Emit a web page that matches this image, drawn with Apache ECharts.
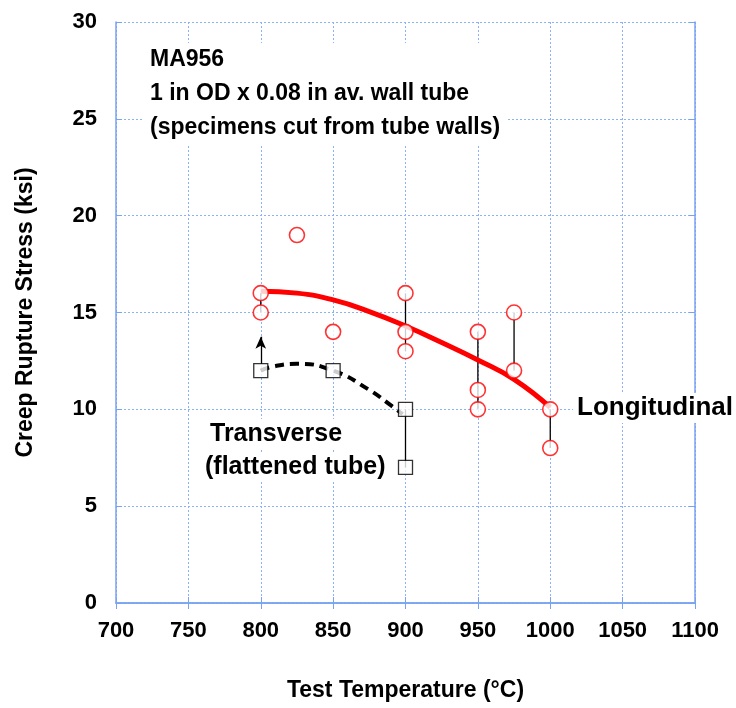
<!DOCTYPE html>
<html><head><meta charset="utf-8">
<script src="https://cdn.jsdelivr.net/npm/echarts@6/dist/echarts.min.js"></script>
<style>html,body{margin:0;padding:0;background:#fff}#c{width:736px;height:708px}</style>
</head><body><div id="c"></div>
<script>
// Data
const xTicks = [700, 750, 800, 850, 900, 950, 1000, 1050, 1100];
const yTicks = [0, 5, 10, 15, 20, 25, 30];
const longTemps =  [800, 800, 825, 850, 900, 900, 900, 950, 950, 950, 975, 975, 1000, 1000];
const longStress = [16, 15, 19, 14, 16, 14, 13, 14, 11, 10, 15, 12, 10, 8];
const transTemps =  [800, 850, 900, 900];
const transStress = [12, 12, 10, 7];
const longFitT = [800, 825, 850, 875, 900, 925, 950, 975, 1000];
const longFitS = [16.1, 16.0, 15.65, 15.05, 14.3, 13.45, 12.55, 11.55, 10.1];
const transFitT = [800, 808, 825, 850, 875, 890, 898];
const transFitS = [12.0, 12.2, 12.35, 12.0, 11.0, 10.2, 9.75];
const rangeT = [800, 900, 950, 975, 1000, 900];
const rangeLo = [15, 13, 10, 12, 8, 7];
const rangeHi = [16, 16, 14, 15, 10, 10];
const arrowT = 800, arrowFrom = 12.35, arrowTo = 13.75;

const zip = (a, b) => a.map((v, i) => [v, b[i]]);
const FONT = 'Liberation Sans, Arial, sans-serif';
const gridBlue = '#8db0f7';
const axisBlue = '#7aa2f2';

const series = [];
rangeT.forEach((t, i) => {
  series.push({type: 'line', data: [[t, rangeLo[i]], [t, rangeHi[i]]], symbol: 'none', showSymbol: false,
    lineStyle: {color: '#000', width: 1.3}, z: 2, silent: true});
});
series.push({type: 'line', data: zip(longFitT, longFitS), smooth: true, symbol: 'none', showSymbol: false,
  lineStyle: {color: '#ff0000', width: 5}, z: 3});
series.push({type: 'line', data: zip(transFitT, transFitS), smooth: true, symbol: 'none', showSymbol: false,
  lineStyle: {color: '#000', width: 4, type: [9, 6]}, z: 3});
series.push({type: 'line', data: [], symbol: 'none', showSymbol: false, z: 2,
  markLine: {silent: true, symbol: ['none', 'arrow'], symbolSize: [8, 12],
    lineStyle: {color: '#000', width: 1.3, type: 'solid'}, label: {show: false},
    data: [[{coord: [arrowT, arrowFrom]}, {coord: [arrowT, arrowTo]}]]}});
series.push({type: 'scatter', data: zip(longTemps, longStress), symbol: 'circle', symbolSize: 15,
  itemStyle: {color: '#fff', borderColor: '#ff0000', borderWidth: 1.6}, z: 5});
series.push({type: 'scatter', data: zip(transTemps, transStress), symbol: 'rect', symbolSize: 14,
  itemStyle: {color: '#fff', borderColor: '#000', borderWidth: 1.3}, z: 5});

const chart = echarts.init(document.getElementById('c'), null, {renderer: 'canvas'});
const tickLabel = {color: '#000', fontFamily: FONT, fontSize: 22, fontWeight: 'bold'};
chart.setOption({
  animation: false,
  backgroundColor: '#fff',
  grid: {left: 116, right: 41, top: 22, bottom: 105, containLabel: false, outerBoundsMode: 'none'},
  xAxis: [{
    type: 'value', min: xTicks[0], max: xTicks[xTicks.length - 1], interval: 50,
    axisLine: {show: true, lineStyle: {color: axisBlue, width: 1.5}},
    axisTick: {show: true, inside: true, length: 6, lineStyle: {color: axisBlue}},
    axisLabel: Object.assign({margin: 17, formatter: v => String(v)}, tickLabel),
    splitLine: {show: true, lineStyle: {color: gridBlue, type: [2, 2], width: 1}},
    name: 'Test Temperature (°C)', nameLocation: 'middle', nameGap: 76,
    nameTextStyle: {color: '#000', fontFamily: FONT, fontSize: 23, fontWeight: 'bold'}
  }, {
    type: 'value', position: 'top', min: 700, max: 1100, interval: 50,
    axisLine: {show: true, lineStyle: {color: axisBlue, width: 1.5}},
    axisTick: {show: true, inside: true, length: 6, lineStyle: {color: axisBlue}},
    axisLabel: {show: false}, splitLine: {show: false}
  }],
  yAxis: [{
    type: 'value', min: yTicks[0], max: yTicks[yTicks.length - 1], interval: 5,
    axisLine: {show: true, lineStyle: {color: axisBlue, width: 1.5}},
    axisTick: {show: true, inside: true, length: 6, lineStyle: {color: axisBlue}},
    axisLabel: Object.assign({margin: 19}, tickLabel),
    splitLine: {show: true, lineStyle: {color: gridBlue, type: [2, 2], width: 1}},
    name: 'Creep Rupture Stress (ksi)', nameLocation: 'middle', nameGap: 79,
    nameTextStyle: {color: '#000', fontFamily: FONT, fontSize: 23, fontWeight: 'bold'}
  }, {
    type: 'value', position: 'right', min: 0, max: 30, interval: 5,
    axisLine: {show: true, lineStyle: {color: axisBlue, width: 1.5}},
    axisTick: {show: true, inside: true, length: 6, lineStyle: {color: axisBlue}},
    axisLabel: {show: false}, splitLine: {show: false}
  }],
  series: series,
  graphic: [
    {type: 'text', left: 144, top: 43, z: 10, style: {
      text: 'MA956\n1 in OD x 0.08 in av. wall tube\n(specimens cut from tube walls)',
      fill: '#000', font: 'bold 23px ' + FONT, lineHeight: 34,
      backgroundColor: '#fff', padding: [0, 6, 0, 6]}},
    {type: 'text', left: 573, top: 393, z: 10, style: {
      text: 'Longitudinal', fill: '#000', font: 'bold 26px ' + FONT, lineHeight: 30,
      backgroundColor: '#fff', padding: [0, 4, 0, 4]}},
    {type: 'text', left: 206, top: 419, z: 10, style: {
      text: 'Transverse', fill: '#000', font: 'bold 25px ' + FONT, lineHeight: 30,
      backgroundColor: '#fff', padding: [0, 4, 0, 4]}},
    {type: 'text', left: 201, top: 452, z: 10, style: {
      text: '(flattened tube)', fill: '#000', font: 'bold 25px ' + FONT, lineHeight: 30,
      backgroundColor: '#fff', padding: [0, 4, 0, 4]}}
  ]
});
</script></body></html>
